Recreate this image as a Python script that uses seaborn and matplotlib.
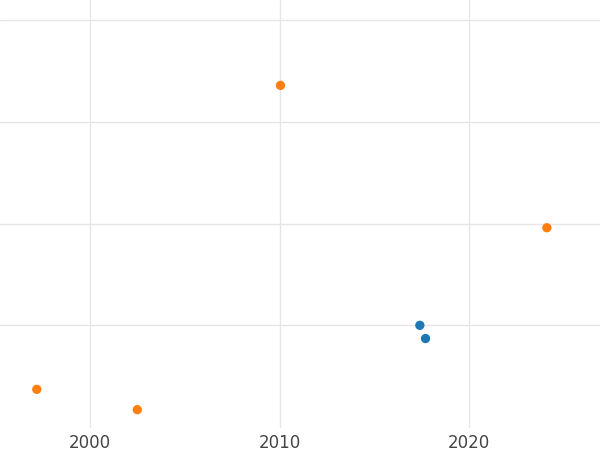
import matplotlib
matplotlib.use("Agg")
import matplotlib.pyplot as plt
import seaborn as sns
import pandas as pd

years = [1997.2, 2002.5, 2010.05, 2024.1, 2017.4, 2017.7]
values = [0.37, 0.17, 3.36, 1.96, 1.0, 0.87]
groups = ["b", "b", "b", "b", "a", "a"]

df = pd.DataFrame({"year": years, "value": values, "group": groups})

sns.set_style("white")
fig = plt.figure(figsize=(6, 4.5), dpi=100)
ax = fig.add_axes([0, 22 / 450, 1, 428 / 450])
sns.scatterplot(data=df, x="year", y="value", hue="group",
                palette={"a": "#1f77b4", "b": "#ff7f0e"},
                s=45, edgecolor="none", legend=False, ax=ax)
ax.set_xlim(1995.26, 2026.9)
ax.set_ylim(-0.01, 4.2)
ax.set_xticks([2000, 2010, 2020])
ax.set_yticks([1, 2, 3, 4])
ax.set_yticklabels([])
ax.grid(True, color="#e6e6e6", linewidth=1)
ax.set_axisbelow(True)
ax.tick_params(axis="x", length=0, labelsize=12, labelcolor="#444444", pad=4)
ax.tick_params(axis="y", length=0)
ax.set_xlabel("")
ax.set_ylabel("")
for s in ax.spines.values():
    s.set_visible(False)
fig.savefig("out.png", dpi=100)
